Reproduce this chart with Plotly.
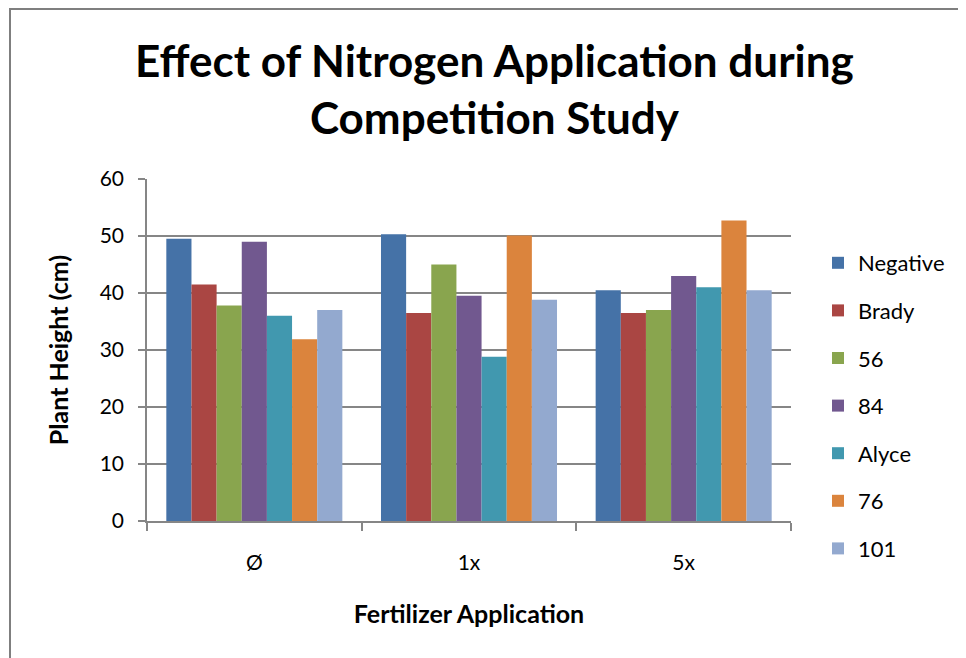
import plotly.graph_objects as go

categories = ["Ø", "1x", "5x"]
series_names = ["Negative", "Brady", "56", "84", "Alyce", "76", "101"]
negative = [49.5, 50.3, 40.5]
brady = [41.5, 36.5, 36.5]
s56 = [37.8, 45.0, 37.0]
s84 = [49.0, 39.5, 43.0]
alyce = [36.0, 28.8, 41.0]
s76 = [31.9, 50.1, 52.7]
s101 = [37.0, 38.8, 40.5]
y_ticks = [0, 10, 20, 30, 40, 50, 60]

values = [negative, brady, s56, s84, alyce, s76, s101]
colors = ["#4572A7", "#AA4643", "#89A54E", "#71588F", "#4198AF", "#DB843D", "#93A9CF"]

FONT = "Lato"

fig = go.Figure()
for i, (name, vals, col) in enumerate(zip(series_names, values, colors)):
    fig.add_trace(go.Bar(
        x=categories, y=vals, name=name,
        marker=dict(color=col, line=dict(width=0)),
        legendgroup=f"g{i}",
    ))

# page body has an 8px margin, so the figure is offset by 8px
OFF = 8
W, H = 966 - OFF, 658 - OFF
L, R, T, B = 147 - OFF, 966 - 791, 179 - OFF, 658 - 521
pw = W - L - R
ph = H - T - B

def px_to_paper_x(px):
    return (px - OFF - L) / pw

def px_to_paper_y(py):
    return (H - B - (py - OFF)) / ph

fig.update_layout(
    width=W, height=H,
    margin=dict(l=L, r=R, t=T, b=B, autoexpand=False),
    paper_bgcolor="white", plot_bgcolor="white",
    barmode="group", bargap=0.18, bargroupgap=0,
    font=dict(family=FONT, color="#000000"),
    showlegend=True,
    legend=dict(
        x=px_to_paper_x(818), xanchor="left",
        y=px_to_paper_y(242), yanchor="top",
        font=dict(family=FONT, size=22, color="#000000"),
        traceorder="grouped", tracegroupgap=16,
        bgcolor="rgba(0,0,0,0)",
    ),
    xaxis=dict(
        type="category",
        showline=True, linecolor="#868686", linewidth=1.5,
        ticks="outside", tickson="boundaries", ticklen=8, tickcolor="#868686", tickwidth=1.5,
        tickfont=dict(family=FONT, size=21, color="#000000"),
        ticklabelstandoff=22,
        title=dict(text="<b>Fertilizer Application</b>", font=dict(family=FONT, size=25, color="#000000"), standoff=33),
        showgrid=False,
    ),
    yaxis=dict(
        range=[0, 60], tickvals=y_ticks,
        showline=True, linecolor="#868686", linewidth=1.5,
        ticks="outside", ticklen=7, tickcolor="#868686", tickwidth=1.5,
        tickfont=dict(family=FONT, size=21, color="#000000"),
        ticklabelstandoff=10,
        showgrid=True, gridcolor="#868686", gridwidth=1.5,
        zeroline=False,
        title=dict(text="<b>Plant Height (cm)</b>", font=dict(family=FONT, size=25, color="#000000"), standoff=24),
    ),
    annotations=[dict(
        text="<b>Effect of Nitrogen Application during<br>Competition Study</b>",
        xref="paper", yref="paper",
        x=px_to_paper_x(494), y=px_to_paper_y(88),
        xanchor="center", yanchor="middle",
        showarrow=False,
        font=dict(family=FONT, size=44, color="#000000"),
    )],
    shapes=[dict(
        type="rect", xref="paper", yref="paper",
        x0=px_to_paper_x(10), x1=px_to_paper_x(1000),
        y0=px_to_paper_y(700), y1=px_to_paper_y(9),
        line=dict(color="#7f7f7f", width=2),
        fillcolor="rgba(0,0,0,0)", layer="below",
    )],
)

fig.write_html("out.html")
